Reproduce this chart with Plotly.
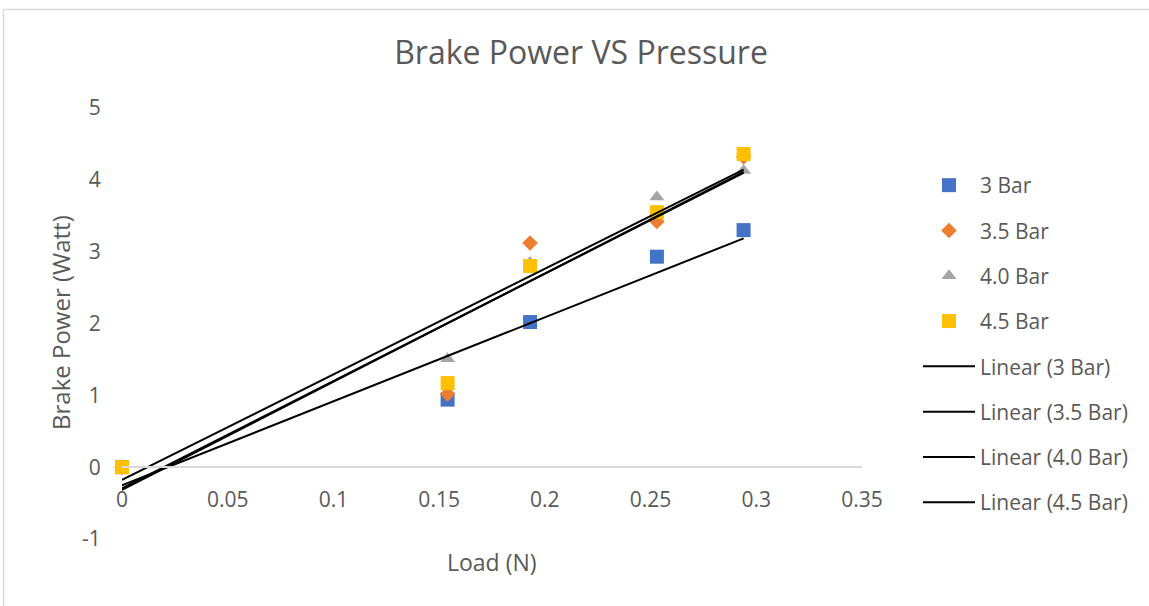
import numpy as np
import plotly.graph_objects as go

# Load values (N) shared by every pressure setting
load = [0, 0.154, 0.193, 0.253, 0.294]

# Brake power (Watt) for each pressure setting
bp_3_0 = [0, 0.94, 2.02, 2.93, 3.30]
bp_3_5 = [0, 1.02, 3.12, 3.42, 4.32]
bp_4_0 = [0, 1.51, 2.85, 3.76, 4.13]
bp_4_5 = [0, 1.17, 2.80, 3.55, 4.36]

series_names = ["3 Bar", "3.5 Bar", "4.0 Bar", "4.5 Bar"]
series_values = [bp_3_0, bp_3_5, bp_4_0, bp_4_5]
series_colors = ["#4472C4", "#ED7D31", "#A5A5A5", "#FFC000"]
series_symbols = ["square", "diamond", "triangle-up", "square"]
series_sizes = [14, 12, 13, 14]

x_ticks = [0, 0.05, 0.1, 0.15, 0.2, 0.25, 0.3, 0.35]
x_tick_text = ["0", "0.05", "0.1", "0.15", "0.2", "0.25", "0.3", "0.35"]
y_ticks = [-1, 0, 1, 2, 3, 4, 5]
y_tick_text = ["-1", "0", "1", "2", "3", "4", "5"]

FONT = "Open Sans"
GREY_TEXT = "#595959"

fig = go.Figure()

# Scatter markers
for name, vals, col, sym, sz in zip(series_names, series_values, series_colors,
                                    series_symbols, series_sizes):
    fig.add_trace(go.Scatter(
        x=load, y=vals, mode="markers", name=name, legendgroup=name,
        cliponaxis=False,
        marker=dict(color=col, symbol=sym, size=sz, line=dict(width=0)),
    ))

# Least-squares linear trendlines drawn across the load range
x_arr = np.array(load, dtype=float)
x_line = np.array([x_arr.min(), x_arr.max()])
for name, vals in zip(series_names, series_values):
    slope, intercept = np.polyfit(x_arr, np.array(vals, dtype=float), 1)
    fig.add_trace(go.Scatter(
        x=x_line, y=slope * x_line + intercept, mode="lines",
        name=f"Linear ({name})", legendgroup=f"Linear ({name})",
        cliponaxis=False,
        line=dict(color="black", width=2),
    ))

L, R, T, B = 122, 287, 108, 67
W, H = 1149, 606
plot_h = H - T - B
plot_w = W - L - R
y_min, y_max = -1, 5
zero_pos = (0 - y_min) / (y_max - y_min)

def px_x(px):
    return (px - L) / plot_w

def px_y(py):
    return (H - B - py) / plot_h

fig.update_layout(
    width=W, height=H,
    margin=dict(l=L, r=R, t=T, b=B),
    paper_bgcolor="white", plot_bgcolor="white",
    font=dict(family=FONT, color=GREY_TEXT, size=21),
    title=dict(text="Brake Power VS Pressure", x=581 / W,
               xanchor="center", y=1 - 53 / H, yanchor="middle",
               font=dict(size=32, color=GREY_TEXT, family=FONT)),
    showlegend=True,
    legend=dict(x=px_x(918), xanchor="left", y=px_y(165), yanchor="top",
                font=dict(size=21, color=GREY_TEXT, family=FONT),
                tracegroupgap=15, itemwidth=52, bgcolor="rgba(0,0,0,0)"),
    xaxis=dict(range=[0, 0.35], tickvals=x_ticks, ticktext=x_tick_text,
               anchor="free", position=zero_pos,
               showline=True, linecolor="#D9D9D9", linewidth=1.5,
               showgrid=False, zeroline=False,
               ticks="outside", ticklen=14, tickcolor="rgba(0,0,0,0)",
               tickfont=dict(size=21, color=GREY_TEXT)),
    yaxis=dict(range=[y_min, y_max], tickvals=y_ticks, ticktext=y_tick_text,
               domain=[0, 1],
               showline=False, showgrid=False, zeroline=False,
               ticks="outside", ticklen=16, tickcolor="rgba(0,0,0,0)",
               tickfont=dict(size=21, color=GREY_TEXT)),
    annotations=[
        dict(text="Load (N)", xref="paper", yref="paper",
             x=px_x(492), y=px_y(562), xanchor="center", yanchor="middle",
             showarrow=False, font=dict(size=23, color=GREY_TEXT)),
        dict(text="Brake Power (Watt)", xref="paper", yref="paper",
             x=px_x(60), y=px_y(323), xanchor="center", yanchor="middle",
             textangle=-90, showarrow=False,
             font=dict(size=24, color=GREY_TEXT)),
    ],
    shapes=[
        dict(type="line", xref="paper", yref="paper",
             x0=px_x(3.5), x1=px_x(1160), y0=px_y(9.5), y1=px_y(9.5),
             line=dict(color="#D9D9D9", width=1.5)),
        dict(type="line", xref="paper", yref="paper",
             x0=px_x(3.5), x1=px_x(3.5), y0=px_y(9.5), y1=px_y(620),
             line=dict(color="#D9D9D9", width=1.5)),
    ],
)

fig.write_html("out.html")
